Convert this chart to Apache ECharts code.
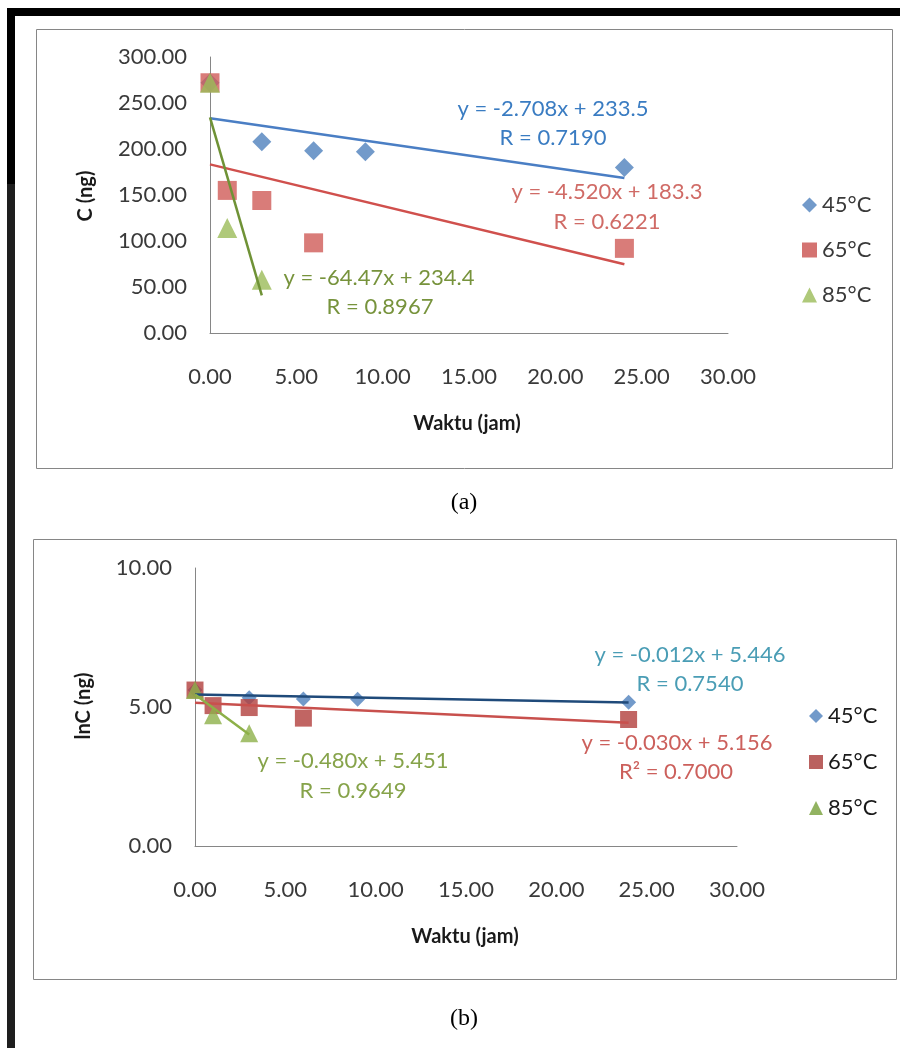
<!DOCTYPE html>
<html>
<head>
<meta charset="utf-8">
<script src="https://cdn.jsdelivr.net/npm/echarts@6/dist/echarts.min.js"></script>
<style>
  html, body { margin: 0; padding: 0; background: #ffffff; }
  #chart { width: 900px; height: 1048px; }
</style>
</head>
<body>
<div id="chart"></div>
<script>
// Sampling times (jam) for each temperature
const jam45 = [0, 3, 6, 9, 24];
const jam65 = [0, 1, 3, 6, 24];
const jam85 = [0, 1, 3];

// Concentration C (ng)
const c45 = [272, 208, 198, 197, 180];
const c65 = [272, 155, 144, 98, 92];
const c85 = [272, 114, 58];

// ln C (ng)
const lnC45 = [5.61, 5.33, 5.29, 5.28, 5.17];
const lnC65 = [5.61, 5.05, 4.98, 4.60, 4.55];
const lnC85 = [5.61, 4.70, 4.06];

// Linear fits as printed on the chart: [slope, intercept, last x]
const fitC45 = [-2.708, 233.5, 24];
const fitC65 = [-4.520, 183.3, 24];
const fitC85 = [-64.47, 234.4, 3];
const fitLn45 = [-0.012, 5.446, 24];
const fitLn65 = [-0.030, 5.156, 24];
const fitLn85 = [-0.480, 5.451, 3];

const seriesNames = ['45°C', '65°C', '85°C'];
const xTicks = { min: 0, max: 30, step: 5 };
const yTicksC = { min: 0, max: 300, step: 50 };
const yTicksLn = { min: 0, max: 10, step: 5 };

const FONT = 'Lato, "Open Sans", sans-serif';
const AXIS_GRAY = '#868686';
const TEXT_GRAY = '#3a3a3a';

function pairs(xs, ys) { return xs.map((x, i) => [x, ys[i]]); }
function fitLine(f) { return [[0, f[1]], [f[2], f[1] + f[0] * f[2]]]; }

function xAxisCfg(gridIndex) {
  return {
    gridIndex, type: 'value', min: xTicks.min, max: xTicks.max, interval: xTicks.step,
    axisLine: { lineStyle: { color: AXIS_GRAY, width: 1 } },
    axisTick: { show: false }, splitLine: { show: false },
    axisLabel: { margin: 33, color: TEXT_GRAY, fontFamily: FONT, fontSize: 22,
      formatter: v => v.toFixed(2) }
  };
}
function yAxisCfg(gridIndex, t) {
  return {
    gridIndex, type: 'value', min: t.min, max: t.max, interval: t.step,
    axisLine: { show: true, lineStyle: { color: AXIS_GRAY, width: 1 } },
    axisTick: { show: false }, splitLine: { show: false },
    axisLabel: { margin: 23, color: TEXT_GRAY, fontFamily: FONT, fontSize: 22,
      formatter: v => v.toFixed(2) }
  };
}

function scatter(name, data, idx, symbol, size, color) {
  return { name, type: 'scatter', xAxisIndex: idx, yAxisIndex: idx, data,
    symbol, symbolSize: size, itemStyle: { color }, z: 3 };
}
function trend(data, idx, color, width) {
  return { type: 'line', xAxisIndex: idx, yAxisIndex: idx, data, symbol: 'none',
    lineStyle: { color, width }, silent: true, z: 4 };
}

function txt(x, y, text, color, size) {
  return { type: 'text', x, y, silent: true, z: 10,
    style: { text, fill: color, font: `${size}px ${FONT}`, textAlign: 'center', textVerticalAlign: 'middle' } };
}
function boldTxt(x, y, text, rotation) {
  return { type: 'text', x, y, rotation: rotation || 0, silent: true, z: 10,
    style: { text, fill: '#1a1a1a', font: `bold 20px ${FONT}`, textAlign: 'center', textVerticalAlign: 'middle' } };
}

const chart = echarts.init(document.getElementById('chart'), null, { renderer: 'canvas' });

chart.setOption({
  backgroundColor: '#ffffff',
  animation: false,
  grid: [
    { left: 210, top: 57, width: 518, height: 276 },
    { left: 195, top: 568, width: 542, height: 278 }
  ],
  xAxis: [xAxisCfg(0), xAxisCfg(1)],
  yAxis: [yAxisCfg(0, yTicksC), yAxisCfg(1, yTicksLn)],
  legend: [
    {
      orient: 'vertical', left: 797, top: 189, itemGap: 23, itemWidth: 15, itemHeight: 15,
      textStyle: { color: TEXT_GRAY, fontFamily: FONT, fontSize: 22, lineHeight: 22 },
      selectedMode: false,
      data: [
        { name: seriesNames[0], icon: 'diamond', itemStyle: { color: '#4F81BD' } },
        { name: seriesNames[1], icon: 'rect', itemStyle: { color: '#C9504D' } },
        { name: seriesNames[2], icon: 'triangle', itemStyle: { color: '#9BBB59' } }
      ]
    },
    {
      orient: 'vertical', left: 804, top: 700, itemGap: 24, itemWidth: 14, itemHeight: 14,
      textStyle: { color: '#1a1a1a', fontFamily: FONT, fontSize: 22, lineHeight: 22 },
      selectedMode: false,
      data: [
        { name: seriesNames[0], icon: 'diamond', itemStyle: { color: '#4F81BD' } },
        { name: seriesNames[1], icon: 'rect', itemStyle: { color: '#A93A37' } },
        { name: seriesNames[2], icon: 'triangle', itemStyle: { color: '#77A03A' } }
      ]
    }
  ],
  series: [
    // (a) C versus time
    scatter(seriesNames[0], pairs(jam45, c45), 0, 'diamond', 19, '#4F81BD'),
    scatter(seriesNames[1], pairs(jam65, c65), 0, 'rect', 19, '#CF5B57'),
    scatter(seriesNames[2], pairs(jam85, c85), 0, 'triangle', 20, '#9BBB59'),
    trend(fitLine(fitC45), 0, '#4A7EC4', 2.5),
    trend(fitLine(fitC65), 0, '#D0504D', 2.5),
    trend(fitLine(fitC85), 0, '#6F9236', 2.5),
    // (b) ln C versus time
    scatter(seriesNames[0], pairs(jam45, lnC45), 1, 'diamond', 15, '#4F81BD'),
    scatter(seriesNames[1], pairs(jam65, lnC65), 1, 'rect', 17, '#B13F3C'),
    scatter(seriesNames[2], pairs(jam85, lnC85), 1, 'triangle', 18, '#8DB04A'),
    trend(fitLine(fitLn45), 1, '#1F4A7A', 2.5),
    trend(fitLine(fitLn65), 1, '#C8504D', 2.5),
    trend(fitLine(fitLn85), 1, '#8DB048', 2.5)
  ],
  graphic: [
    // page frame
    { type: 'rect', shape: { x: 7, y: 8, width: 893, height: 8 }, style: { fill: '#000' }, silent: true, z: 0 },
    { type: 'rect', shape: { x: 7, y: 8, width: 8, height: 176 }, style: { fill: '#000' }, silent: true, z: 0 },
    { type: 'rect', shape: { x: 7, y: 184, width: 8, height: 864 }, style: { fill: '#1e1e1e' }, silent: true, z: 0 },
    // chart area boxes
    { type: 'rect', shape: { x: 36.5, y: 29.5, width: 856, height: 439 }, style: { fill: 'none', stroke: AXIS_GRAY, lineWidth: 1 }, silent: true, z: 0 },
    { type: 'rect', shape: { x: 33.5, y: 539.5, width: 863, height: 440 }, style: { fill: 'none', stroke: AXIS_GRAY, lineWidth: 1 }, silent: true, z: 0 },
    // axis titles
    boldTxt(467, 424, 'Waktu (jam)'),
    boldTxt(465, 937, 'Waktu (jam)'),
    boldTxt(86, 196, 'C (ng)', Math.PI / 2),
    boldTxt(84, 706, 'lnC (ng)', Math.PI / 2),
    // fit equations (a)
    txt(553, 109, 'y = -2.708x + 233.5', '#3A7CC2', 22),
    txt(553, 138, 'R = 0.7190', '#3A7CC2', 22),
    txt(607, 192, 'y = -4.520x + 183.3', '#D06B66', 22),
    txt(607, 222, 'R = 0.6221', '#D06B66', 22),
    txt(379, 278, 'y = -64.47x + 234.4', '#77933C', 22),
    txt(380, 307, 'R = 0.8967', '#77933C', 22),
    // fit equations (b)
    txt(690, 655, 'y = -0.012x + 5.446', '#4A9DB5', 22),
    txt(690, 684, 'R = 0.7540', '#4A9DB5', 22),
    txt(677, 743, 'y = -0.030x + 5.156', '#CC605C', 22),
    txt(676, 772, 'R² = 0.7000', '#CC605C', 22),
    txt(353, 761, 'y = -0.480x + 5.451', '#86A34A', 22),
    txt(353, 791, 'R = 0.9649', '#86A34A', 22),
    // panel captions
    { type: 'text', x: 464, y: 503, silent: true, style: { text: '(a)', fill: '#000', font: '24px "Liberation Serif", serif', textAlign: 'center', textVerticalAlign: 'middle' } },
    { type: 'text', x: 464, y: 1019, silent: true, style: { text: '(b)', fill: '#000', font: '24px "Liberation Serif", serif', textAlign: 'center', textVerticalAlign: 'middle' } }
  ]
});
</script>
</body>
</html>
